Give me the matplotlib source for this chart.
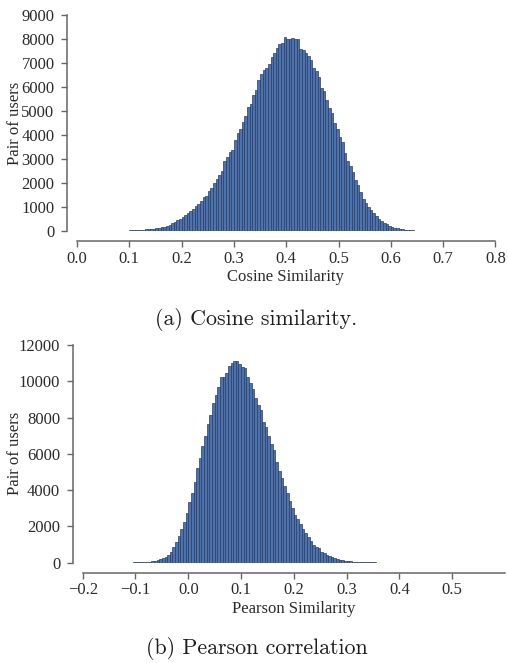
import matplotlib
matplotlib.use('Agg')
import matplotlib.pyplot as plt
import numpy as np

# histogram counts, bins of width 0.005
cos_start = 0.055
cos_counts = [3, 4, 5, 6, 8, 10, 12, 15, 18, 22,
              27, 32, 38, 45, 55, 65, 75, 90, 100, 115,
              130, 150, 185, 225, 270, 320, 380, 440, 510, 580,
              670, 760, 850, 930, 1030, 1130, 1230, 1400, 1450, 1680,
              1800, 2010, 2180, 2320, 2520, 2900, 3100, 3300, 3380, 3800,
              4100, 4260, 4560, 4780, 5150, 5290, 5670, 5880, 6280, 6540,
              6700, 6800, 6960, 7250, 7420, 7620, 7800, 7850, 8080, 8020,
              8000, 8060, 8010, 7990, 7600, 7560, 7420, 7300, 7120, 6780,
              6660, 6430, 5950, 5850, 5460, 5120, 4900, 4510, 4230, 3930,
              3720, 3240, 2900, 2710, 2470, 2120, 1900, 1620, 1320, 1150,
              990, 860, 740, 620, 510, 420, 350, 280, 220, 180,
              140, 115, 90, 75, 60, 45, 35, 28, 20, 15,
              12, 10, 8, 6, 5, 4, 3, 2, 2]

pea_start = -0.125
pea_counts = [5, 6, 8, 10, 12, 15, 20, 30, 40, 50,
              65, 80, 100, 130, 180, 240, 330, 440, 600, 850,
              1130, 1470, 1880, 2260, 2760, 3360, 3860, 4470, 5200, 5750,
              6430, 6980, 7650, 8140, 8790, 9240, 9700, 10220, 10250, 10440,
              10840, 11030, 11120, 11140, 10950, 10800, 10710, 10250, 9920, 9560,
              9060, 8690, 8420, 7770, 7460, 6980, 6530, 6210, 5570, 5060,
              4650, 4240, 3830, 3420, 3000, 2630, 2390, 2130, 1840, 1620,
              1400, 1200, 975, 880, 830, 610, 520, 440, 370, 300,
              250, 200, 160, 130, 105, 85, 70, 55, 45, 38,
              32, 26, 22, 18, 15, 12, 10, 8, 7, 6,
              5, 4, 3, 3, 2]
bin_w = 0.005

cos_ticks = [0.0, 0.1, 0.2, 0.3, 0.4, 0.5, 0.6, 0.7, 0.8]
cos_yticks = [0, 1000, 2000, 3000, 4000, 5000, 6000, 7000, 8000, 9000]
pea_ticks = [-0.2, -0.1, 0.0, 0.1, 0.2, 0.3, 0.4, 0.5]
pea_yticks = [0, 2000, 4000, 6000, 8000, 10000, 12000]

plt.rcParams['font.family'] = ['Liberation Serif', 'DejaVu Serif']
plt.rcParams['font.size'] = 12
txt = '#2b2b2b'
spc = '#666666'

fig = plt.figure(figsize=(5.08, 6.63), dpi=100)
ax1 = fig.add_axes([0.1516, 0.6516, 0.8236, 0.3258])
ax2 = fig.add_axes([0.1628, 0.1513, 0.8313, 0.3283])


def draw(ax, start, counts, xt, yt, xlim, ylim, xlabel, base_from):
    left = start + bin_w * np.arange(len(counts))
    ax.axhline(0, xmin=(base_from - xlim[0]) / (xlim[1] - xlim[0]),
               color='#e2e2e2', lw=0.8, zorder=1)
    ax.bar(left, counts, width=bin_w, align='edge', color='#4c72b0',
           edgecolor='#2c3d60', linewidth=0.5, zorder=2)
    ax.set_xlim(*xlim)
    ax.set_ylim(*ylim)
    ax.set_xticks(xt)
    ax.set_yticks(yt)
    for s in ['top', 'right']:
        ax.spines[s].set_visible(False)
    for s in ['left', 'bottom']:
        ax.spines[s].set_position(('outward', 7.2))
        ax.spines[s].set_color(spc)
        ax.spines[s].set_linewidth(1.1)
    ax.tick_params(direction='out', length=4.5, width=1, color=spc,
                   labelcolor=txt, labelsize=12)
    ax.tick_params(axis='y', pad=4.5)
    ax.tick_params(axis='x', pad=2.5)
    ax.set_xlabel(xlabel, color=txt, fontsize=12)
    ax.set_ylabel('Pair of users', color=txt, fontsize=12)


draw(ax1, cos_start, cos_counts, cos_ticks, cos_yticks, (0.0, 0.8), (0, 9000),
     'Cosine Similarity', 0.044)
draw(ax2, pea_start, pea_counts, pea_ticks, pea_yticks, (-0.2, 0.6), (0, 12000),
     'Pearson Similarity', -0.124)

ax1.xaxis.set_label_coords(0.499, -0.212)
ax1.xaxis.label.set_va('center')
ax1.yaxis.set_label_coords(-0.148, 0.5)
ax1.yaxis.label.set_va('center')
ax2.xaxis.set_label_coords(0.5, -0.214)
ax2.xaxis.label.set_va('center')
ax2.yaxis.set_label_coords(-0.160, 0.5)
ax2.yaxis.label.set_va('center')

fig.text(0.505, 1 - 319 / 663, '(a) Cosine similarity.', ha='center', va='center',
         family='cmr10', fontsize=15.8, color='#1e1e1e')
fig.text(0.505, 1 - 648 / 663, '(b) Pearson correlation', ha='center', va='center',
         family='cmr10', fontsize=15.8, color='#1e1e1e')

fig.savefig('out.png', dpi=100)
